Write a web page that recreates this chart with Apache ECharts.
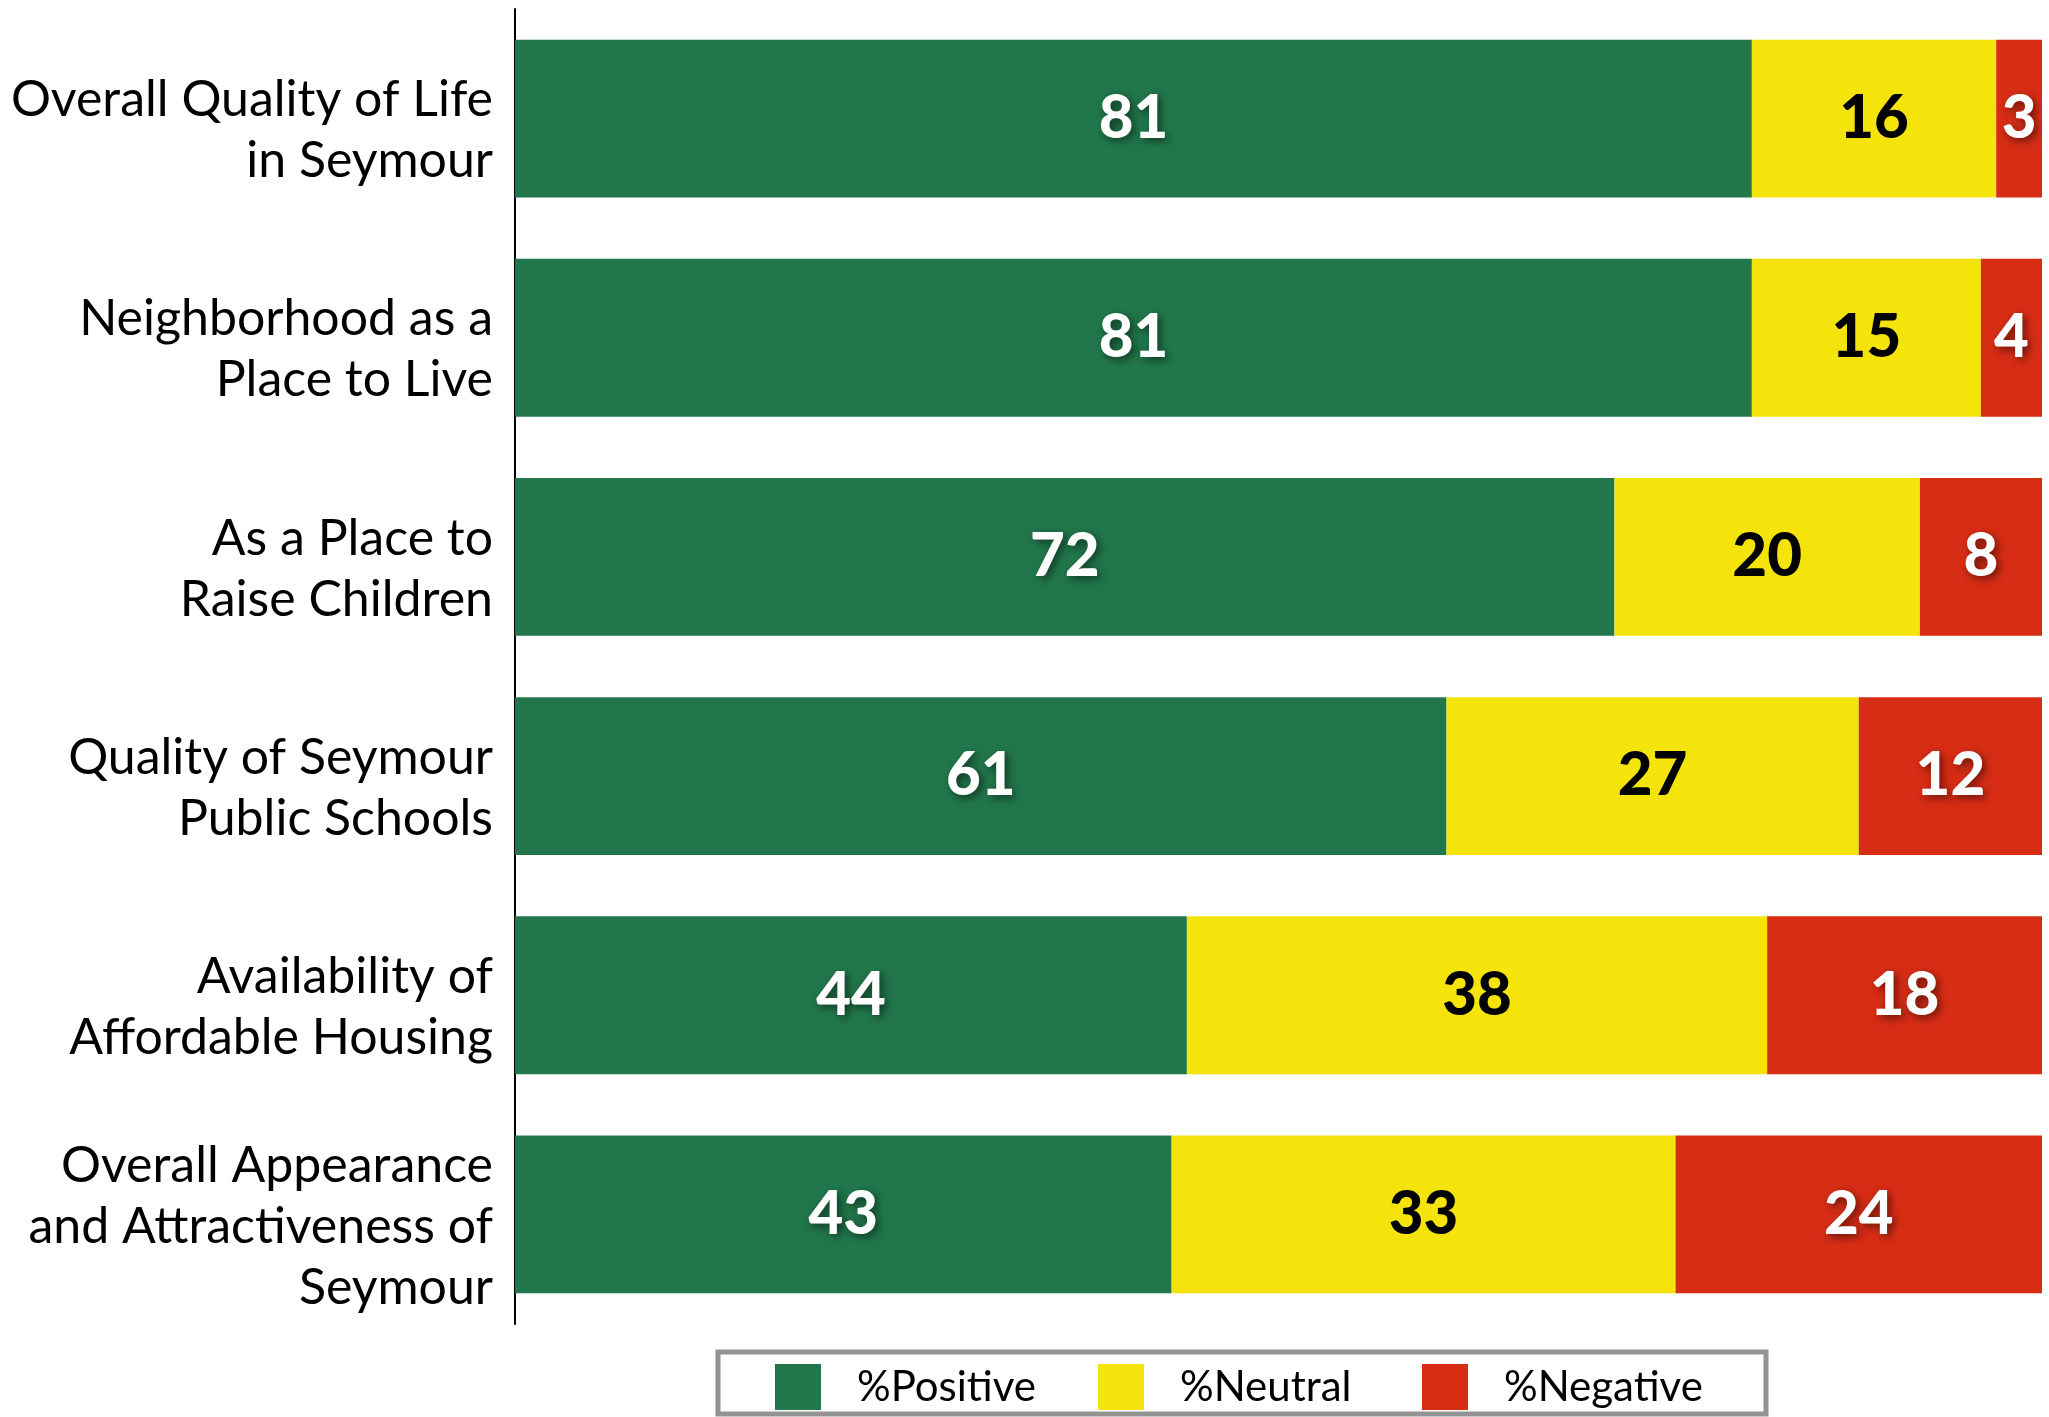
<!DOCTYPE html>
<html><head><meta charset="utf-8">
<script src="https://cdn.jsdelivr.net/npm/echarts@6/dist/echarts.min.js"></script>
<style>html,body{margin:0;padding:0;background:#fff}#c{width:2049px;height:1417px}</style>
</head><body><div id="c"></div>
<script>
const categories = [
  "Overall Quality of Life\nin Seymour",
  "Neighborhood as a\nPlace to Live",
  "As a Place to\nRaise Children",
  "Quality of Seymour\nPublic Schools",
  "Availability of\nAffordable Housing",
  "Overall Appearance\nand Attractiveness of\nSeymour"
];
const positive = [81, 81, 72, 61, 44, 43];
const neutral  = [16, 15, 20, 27, 38, 33];
const negative = [3, 4, 8, 12, 18, 24];
const seriesNames = ["%Positive", "%Neutral", "%Negative"];
const colors = ["#21774B", "#F4E40B", "#D82D15"];

const chart = echarts.init(document.getElementById('c'));
const font = 'Lato, "Open Sans", sans-serif';
const shadowLabel = {
  show: true, position: 'inside', color: '#fff', fontFamily: font, fontWeight: 900, fontSize: 60,
  textShadowColor: 'rgba(0,0,0,0.55)', textShadowBlur: 8, textShadowOffsetX: 3, textShadowOffsetY: 3
};
function mkSeries(name, data, color, label) {
  return { name, type: 'bar', stack: 'total', data, barCategoryGap: '28%',
    itemStyle: { color }, label, emphasis: { disabled: true } };
}
function mkLegend(name, left) {
  return { data: [name], left, top: 1364, itemWidth: 46, itemHeight: 46, icon: 'rect',
    orient: 'horizontal', padding: 0, itemGap: 0, selectedMode: false,
    textStyle: { fontFamily: font, fontSize: 42, color: '#000', padding: [0, 0, 0, 31] } };
}
chart.setOption({
  animation: false,
  grid: { left: 515, top: 9, width: 1527, height: 1315, containLabel: false },
  xAxis: { type: 'value', min: 0, max: 100, show: false },
  yAxis: { type: 'category', data: categories, inverse: true,
    axisLine: { show: true, lineStyle: { color: '#000', width: 2 } },
    axisTick: { show: false },
    axisLabel: { color: '#000', margin: 22, align: 'right',
      formatter: v => '{s| }\n' + v.split('\n').map(l => '{t|' + l + '}').join('\n'),
      rich: {
        s: { fontSize: 1, lineHeight: 24 },
        t: { fontFamily: font, fontSize: 50, lineHeight: 61, color: '#000', align: 'right' }
      } } },
  legend: [mkLegend(seriesNames[0], 775), mkLegend(seriesNames[1], 1098), mkLegend(seriesNames[2], 1422)],
  graphic: [{ type: 'rect', shape: { x: 718, y: 1352, width: 1048, height: 62 },
    style: { fill: 'none', stroke: '#939393', lineWidth: 5 } }],
  series: [
    mkSeries(seriesNames[0], positive, colors[0], shadowLabel),
    mkSeries(seriesNames[1], neutral, colors[1], Object.assign({}, shadowLabel, { color: '#000', textShadowBlur: 0, textShadowOffsetX: 0, textShadowOffsetY: 0, textShadowColor: 'transparent' })),
    mkSeries(seriesNames[2], negative, colors[2], shadowLabel)
  ]
});
</script></body></html>
